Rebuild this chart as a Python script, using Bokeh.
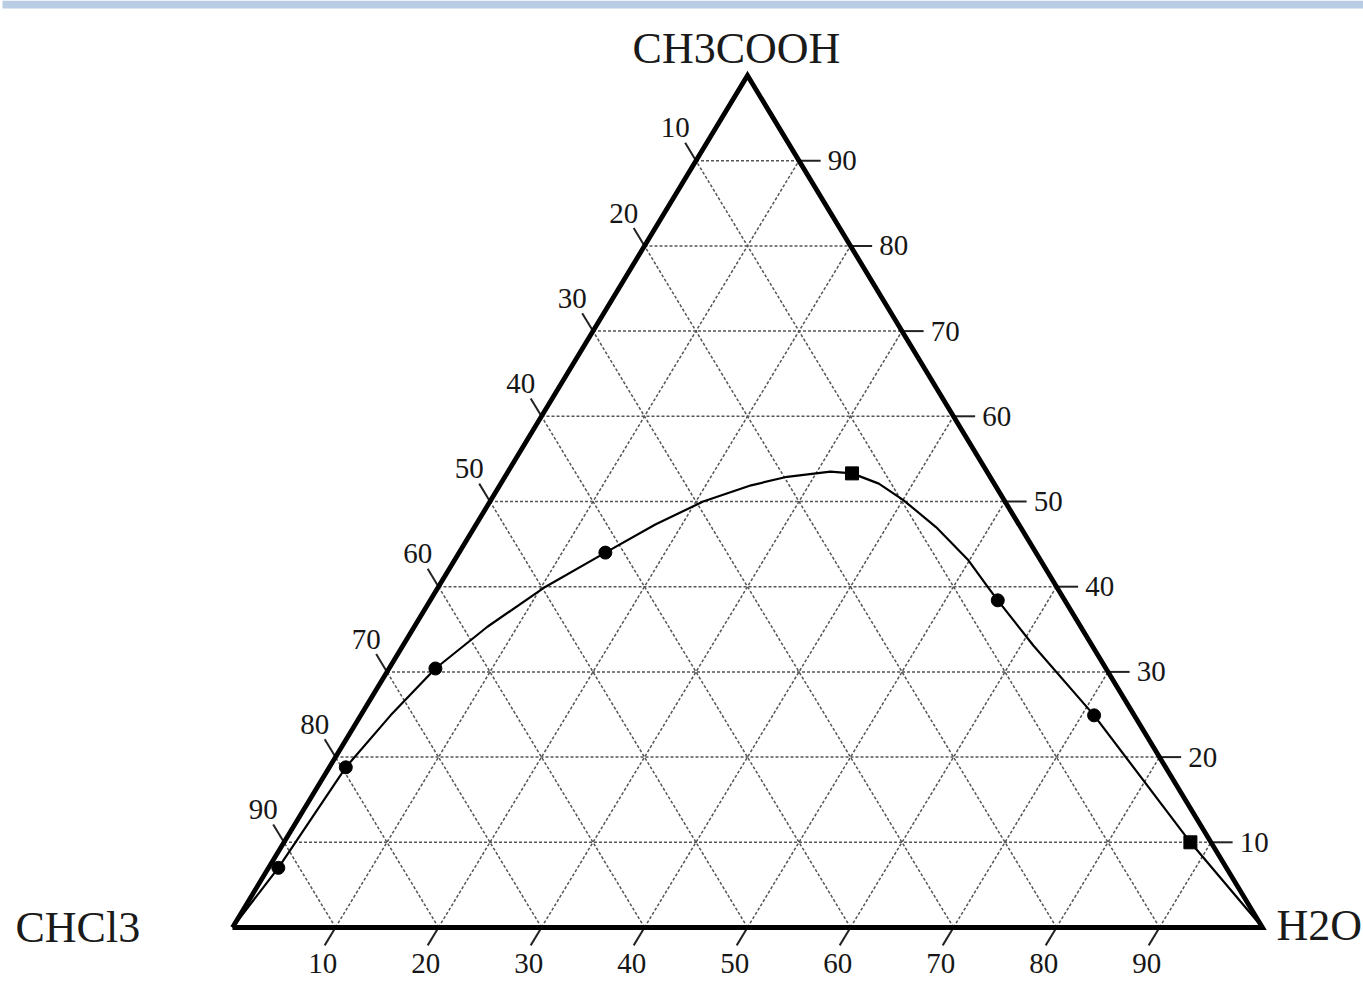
from bokeh.plotting import figure
from bokeh.models import ColumnDataSource
from bokeh.core.properties import value
from bokeh.embed import file_html
from bokeh.resources import INLINE

# ---------------- data ----------------
ticks = [10, 20, 30, 40, 50, 60, 70, 80, 90]
tick_labels = [str(t) for t in ticks]
vertex_names = ["CH3COOH", "CHCl3", "H2O"]

# experimental tie points (mass %)
pt_ch3cooh = [7.0, 18.8, 30.4, 44.0, 53.3, 38.4, 24.9, 10.0]
pt_h2o = [0.95, 1.6, 4.5, 14.2, 33.5, 55.1, 71.2, 88.0]
pt_marker = ["circle", "circle", "circle", "circle", "square", "circle", "circle", "square"]

# binodal curve (mass %)
curve_ch3cooh = [0.0, 7.0, 18.8, 24.9, 30.4, 35.3, 40.0, 44.0, 47.3, 50.0, 51.9, 52.9,
                 53.5, 53.3, 52.1, 50.2, 47.0, 43.1, 40.1, 38.4, 33.1, 24.9, 10.0, 0.0]
curve_h2o = [0.0, 0.95, 1.6, 2.9, 4.5, 7.1, 10.4, 14.2, 17.4, 20.7, 24.4, 27.4,
             31.3, 33.5, 36.7, 40.0, 44.8, 49.9, 53.2, 55.1, 61.2, 71.2, 88.0, 100.0]

# ---------------- layout (pixels) ----------------
W, H = 1363, 981
PX0, SX = 232.0, 10.3      # pixel x of X=0, pixels per unit
PY0, SY = 927.0, 8.52      # pixel y of A=0, pixels per unit


def tx(a, b):
    return b + a / 2.0


def ty(a, b):
    return a


x0 = -PX0 / SX
y1 = PY0 / SY
p = figure(width=W, height=H, x_range=(x0, x0 + W / SX), y_range=(y1 - H / SY, y1),
           output_backend="svg", toolbar_location=None, min_border=0,
           x_axis_location=None, y_axis_location=None)
p.grid.grid_line_color = None
p.outline_line_color = None
p.background_fill_color = "white"

# page header band
p.quad(left=[x0 + 2 / SX], right=[x0 + W / SX], top=[y1], bottom=[y1 - 8 / SY],
       fill_color="#b8cce4", line_color=None)

# ---------------- grid ----------------
gx, gy = [], []
for k in ticks:
    gx.append([tx(k, 0), tx(k, 100 - k)]); gy.append([ty(k, 0), ty(k, 100 - k)])
    gx.append([tx(0, k), tx(100 - k, k)]); gy.append([ty(0, k), ty(100 - k, k)])
    gx.append([tx(0, 100 - k), tx(100 - k, 0)]); gy.append([ty(0, 100 - k), ty(100 - k, 0)])
p.multi_line(gx, gy, line_color="#555555", line_width=1.5, line_dash="3 2")

# ---------------- ticks ----------------
ext = 2.1
tkx, tky = [], []
bx, by, lx, ly, rx, ry = [], [], [], [], [], []
for k in ticks:
    tkx.append([tx(0, k), tx(-ext, k)]); tky.append([ty(0, k), ty(-ext, k)])
    bx.append(tx(-ext, k)); by.append(ty(-ext, k))
    a0 = 100 - k
    tkx.append([tx(a0, 0), tx(a0 + ext, -ext)]); tky.append([ty(a0, 0), ty(a0 + ext, -ext)])
    lx.append(tx(a0 + ext, -ext)); ly.append(ty(a0 + ext, -ext))
    tkx.append([tx(k, 100 - k), tx(k, 100 - k + ext)]); tky.append([ty(k, 100 - k), ty(k, 100 - k + ext)])
    rx.append(tx(k, 100 - k + ext)); ry.append(ty(k, 100 - k + ext))
p.multi_line(tkx, tky, line_color="#222222", line_width=2)

font = value("Liberation Serif")
fs = "29px"
p.text(bx, by, text=tick_labels, text_font=font, text_font_size=fs, text_color="#161616",
       text_align="center", text_baseline="middle", x_offset=-2, y_offset=18)
p.text(lx, ly, text=tick_labels, text_font=font, text_font_size=fs, text_color="#161616",
       text_align="center", text_baseline="middle", x_offset=-10, y_offset=-15)
p.text(rx, ry, text=tick_labels, text_font=font, text_font_size=fs, text_color="#161616",
       text_align="left", text_baseline="middle", x_offset=7, y_offset=0)

# ---------------- frame ----------------
p.line([tx(0, 0), tx(0, 100), tx(100, 0), tx(0, 0)],
       [ty(0, 0), ty(0, 100), ty(100, 0), ty(0, 0)],
       line_color="black", line_width=4.8, line_join="miter")

# ---------------- curve + points ----------------
p.line([tx(a, b) for a, b in zip(curve_ch3cooh, curve_h2o)],
       [ty(a, b) for a, b in zip(curve_ch3cooh, curve_h2o)],
       line_color="black", line_width=2.2, line_join="round")

src = ColumnDataSource(dict(
    x=[tx(a, b) for a, b in zip(pt_ch3cooh, pt_h2o)],
    y=[ty(a, b) for a, b in zip(pt_ch3cooh, pt_h2o)],
    marker=pt_marker))
p.scatter("x", "y", source=src, marker="marker", size=13, fill_color="black", line_color="black")

# ---------------- vertex labels ----------------
vsrc = ColumnDataSource(dict(
    x=[tx(100, 0), tx(0, 0), tx(0, 100)],
    y=[ty(100, 0), ty(0, 0), ty(0, 100)],
    t=vertex_names,
    xo=[-11, -217, 14],
    yo=[-27, 0, -2],
    al=["center", "left", "left"]))
p.text("x", "y", text="t", source=vsrc, text_font=font, text_font_size="44px",
       text_color="#1a1a1a", text_align="al", text_baseline="middle",
       x_offset="xo", y_offset="yo")

open("out.html", "w").write(file_html(p, INLINE))
